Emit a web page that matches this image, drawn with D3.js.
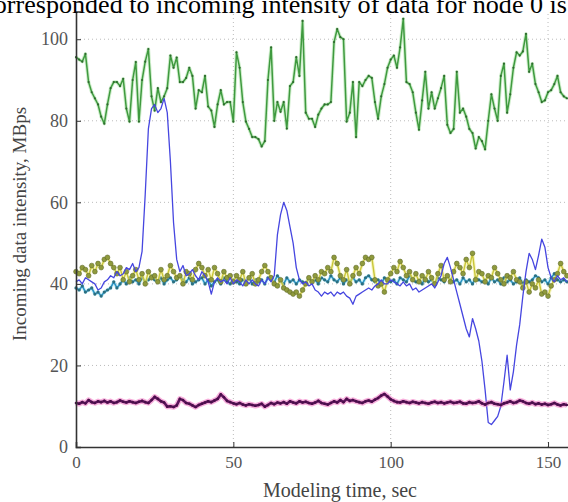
<!DOCTYPE html>
<html>
<head>
<meta charset="utf-8">
<script src="https://cdn.jsdelivr.net/npm/d3@7"></script>
<style>
    body { margin: 0; background: #fff; }
    svg { display: block; }
    .tick text { font-family: "Liberation Serif", "Times New Roman", serif; fill: #555; }
</style>
</head>
<body>
<svg id="svg"></svg>
<script>
// seconds 0..156, one sample per second
let time = d3.range(0, 157);

let xTicks = [0, 50, 100, 150];
let yTicks = [0, 20, 40, 60, 80, 100];

let greenNode = [
    95.6, 95, 94.5, 96.4, 89.5, 87, 85.5, 84, 81, 79.3,
    84, 88, 89.5, 89.5, 88.5, 90.3, 83, 79.8, 90, 94.4,
    79.8, 90, 94.5, 97.6, 86, 82.5, 88, 84.6, 86, 88,
    96, 93, 95.5, 89.5, 89.5, 90.5, 93, 91, 83, 87.5,
    87, 91, 83.5, 82.5, 78.5, 84, 87.5, 84, 84.6, 84.6,
    79.8, 96.8, 93, 84.6, 79.8, 78, 76, 76, 75.5, 73.7,
    75, 90, 98, 80, 84.6, 82.2, 84.6, 78.1, 88.5, 89.5,
    95.6, 91, 104.5, 82, 80.5, 80.5, 78.5, 81.5, 83, 84,
    84, 84.6, 99.3, 102.5, 100.5, 100, 79.8, 82, 89.5, 76,
    89.5, 88.5, 90, 91, 90.5, 84.6, 80.5, 86, 89, 93,
    95, 96, 93, 98, 105, 89.5, 89, 87, 82, 77.8,
    85, 92, 83, 87, 83, 85.5, 88, 91, 79, 77,
    78, 92, 82, 83, 81, 78, 77, 73.2, 76, 75,
    73, 80, 86.5, 83, 80, 91, 94, 82, 86.5, 93,
    96.8, 96, 97, 101.3, 92, 94, 89, 87, 84.6, 85,
    87, 87.5, 89, 91, 87, 86, 85.5
];

let blueNode = [
    40.5, 41, 40, 41.5, 41, 40.5, 40, 38.5, 39, 40.5,
    41, 42, 41.5, 43, 42, 42.5, 44, 43.5, 45, 43,
    44, 48, 62, 78, 83, 84, 82, 83, 85.5, 82,
    70, 55, 46, 43, 44.5, 42, 42.5, 43.5, 42, 41,
    43, 42, 40.5, 37.5, 40.5, 41.5, 40.5, 41, 40, 41.5,
    40, 41, 40.5, 39.5, 41, 40, 41, 40, 39.5, 41,
    40, 41.5, 40.5, 42, 52, 57, 60, 58, 54, 50,
    44, 41, 40, 40.5, 39.5, 40, 38.5, 38, 37, 38,
    37.5, 38, 37, 38, 37.5, 38, 37, 36.5, 35, 37,
    37.5, 38, 38.5, 39, 38.5, 39.5, 40, 41, 40, 40,
    41, 40.5, 40, 39.5, 40.5, 39.5, 40, 38.5, 39, 38,
    38.5, 39, 39.5, 40, 39, 40.5, 42, 45, 46.5, 44,
    41, 38, 35, 32, 29, 27, 31.5, 29, 26, 21,
    14, 6, 5.5, 6.5, 7.5, 10, 16, 22.5, 14, 18.5,
    25, 30, 37, 43, 47.5, 46, 43.5, 47, 51, 49,
    44, 41.5, 40.5, 42, 41, 41.5, 40.5
];

let cyanNode = [
    39, 38.5, 39.5, 38, 38.5, 39, 37.5, 38, 37, 38,
    38.5, 39, 40.5, 39, 40, 41, 40, 41.5, 40.5, 41,
    40, 41.5, 40.5, 41, 42, 41, 40.5, 41.5, 40, 41,
    41.5, 40.5, 41, 42, 41, 40.5, 41.5, 40, 40.5, 41,
    41.5, 40, 41, 39.5, 40.5, 41, 40, 41.5, 40.5, 40,
    41, 40.5, 40, 41, 40.5, 41.5, 40, 41, 40.5, 41,
    40, 41.5, 41, 40.5, 42, 41, 40, 41.5, 40.5, 41,
    40, 41, 40.5, 40, 41.5, 40.5, 41, 40, 41.5, 41,
    40.5, 42, 41, 40.5, 41.5, 40, 41, 40.5, 41.5, 40.5,
    41, 40, 41.5, 42, 41, 40.5, 41, 40, 41.5, 41,
    40.5, 41, 40, 41.5, 41, 40.5, 42, 41, 40.5, 41,
    40, 41.5, 40.5, 41, 40, 41.5, 41, 40.5, 42, 41,
    40.5, 41, 40, 41.5, 40.5, 41, 40, 41.5, 41, 40.5,
    41, 40, 41.5, 40.5, 41, 40, 41.5, 40.5, 41, 40,
    40.5, 41.5, 40, 41, 40.5, 41, 42, 41.5, 40.5, 41,
    40, 41.5, 42.5, 41, 40.5, 41, 40.5
];

let yellowNode = [
    43, 42.5, 44, 43.5, 42, 44.5, 43, 45, 44, 46,
    46.5, 45, 44, 42.5, 44, 41, 43, 40.5, 42, 43.5,
    41, 42.5, 40, 43, 41.5, 42, 40.5, 43.5, 41, 42,
    44.5, 43, 41.5, 42, 40, 43, 42.5, 41, 43.5, 45,
    44, 42, 43.5, 41, 44, 42.5, 40.5, 43, 41.5, 42,
    40.5, 42, 41, 43, 40, 41.5, 42.5, 40, 41, 43,
    44.5, 43, 41.5, 40, 39.5, 41, 39, 38.5, 38, 37.5,
    38, 37, 38.5, 40, 41.5, 40.5, 42, 41, 43, 42.5,
    44, 43, 46.5, 45, 42, 41, 43.5, 40, 42, 44,
    42.5, 45, 46.5, 46, 46.5, 41, 39.5, 40, 38, 41,
    42.5, 44, 43, 45.5, 44, 42, 43, 41, 42.5, 40.5,
    42, 41, 43, 41.5, 40, 42.5, 44.5, 41, 42, 40.5,
    43, 45, 44, 42.5, 46, 44, 47.5, 41, 43, 42.5,
    40.5, 42, 41.5, 44, 42.5, 41, 40, 42, 41.5, 43,
    41, 40.5, 39, 40.5, 38, 40, 39, 41, 37.5, 38,
    37, 39.5, 41, 42.5, 45, 43, 42
];

let purpleNode = [
    10.8, 10.6, 11, 10.7, 11.5, 11, 10.8, 11.2, 11, 11.3,
    10.9, 11.2, 10.8, 11, 11.4, 11.1, 10.9, 11.2, 11, 10.8,
    11.1, 11.3, 11, 10.8, 11.5, 12.3, 11.8, 11.2, 10.9, 9.9,
    10, 9.8, 10.2, 11.8, 11.5, 10.8, 10.6, 10.2, 9.8, 10.3,
    10.6, 10.9, 11.2, 11, 11.4, 11.8, 12.9, 12.2, 11.3, 11,
    10.7, 10.5, 10.8, 10.4, 10.2, 10.5, 10.3, 10.1, 10.3, 10.6,
    9.9, 10.3, 10.8, 10.5, 10.9, 10.7, 11, 10.6, 11.2, 10.9,
    10.7, 11.2, 10.9, 11.1, 10.8, 10.6, 10.9, 11.3, 10.8, 10.6,
    10.4, 10.8, 11.2, 10.9, 11.5, 11, 11.8, 11.3, 11.5, 11.2,
    11, 10.8, 11.2, 11.4, 11.1, 11.6, 12, 12.6, 13, 12.4,
    11.7, 11.3, 11, 10.9, 11.2, 11, 10.8, 11.1, 10.9, 10.7,
    11, 10.8, 10.6, 10.9, 11.1, 10.8, 11, 10.7, 10.9, 11.1,
    10.8, 10.9, 11.1, 10.7, 10.6, 11, 10.8, 10.9, 11.2, 10.7,
    10.4, 10.8, 11, 10.6, 10.5, 10.3, 10.7, 10.9, 11.2, 10.8,
    11, 11.4, 11.2, 10.8, 10.6, 10.9, 10.5, 10.7, 10.4, 10.6,
    10.3, 10.5, 10.8, 10.4, 10.2, 10.5, 10.3
];

const width = 568;
const height = 502;
const serif = '"Liberation Serif", "Times New Roman", serif';

let svg = d3.select("#svg").attr("width", width).attr("height", height);

// the figure is cropped on the right, so the x range runs past the page edge
let xScale = d3.scaleLinear().domain([0, 160]).range([76, 579.5]);
let yScale = d3.scaleLinear().domain([0, 106.8]).range([447, 11.5]);

function drawGrid() {
    svg.append("g").selectAll("line")
        .data(xTicks.slice(1))
        .enter().append("line")
            .attr("x1", d => xScale(d)).attr("x2", d => xScale(d))
            .attr("y1", yScale(0)).attr("y2", yScale(106.8))
            .attr("stroke", "#bbb").attr("stroke-width", 1)
            .attr("stroke-dasharray", "1,3");

    svg.append("g").selectAll("line")
        .data(yTicks.slice(1))
        .enter().append("line")
            .attr("x1", xScale(0)).attr("x2", width)
            .attr("y1", d => yScale(d)).attr("y2", d => yScale(d))
            .attr("stroke", "#bbb").attr("stroke-width", 1)
            .attr("stroke-dasharray", "1,3");
}

function drawSeries(values, opts) {
    let pts = values.map((v, i) => [time[i], v]);
    let line = d3.line().x(d => xScale(d[0])).y(d => yScale(d[1]));
    let g = svg.append("g");

    if (opts.halo) {
        g.append("path").datum(pts)
            .attr("d", line).attr("fill", "none")
            .attr("stroke", opts.halo).attr("stroke-width", opts.haloWidth)
            .attr("stroke-opacity", 0.55).attr("stroke-linejoin", "round");
    }
    g.append("path").datum(pts)
        .attr("d", line).attr("fill", "none")
        .attr("stroke", opts.color).attr("stroke-width", opts.width)
        .attr("stroke-linejoin", "round");

    if (opts.marker) {
        g.selectAll("circle").data(pts).enter().append("circle")
            .attr("cx", d => xScale(d[0]))
            .attr("cy", d => yScale(d[1]))
            .attr("r", opts.marker)
            .attr("fill", opts.markerFill)
            .attr("stroke", opts.markerStroke || "none")
            .attr("stroke-width", 0.6);
    }
}

function drawAxes() {
    let xAxis = svg.append("g")
        .attr("transform", `translate(0,${yScale(0)})`)
        .call(d3.axisBottom(xScale).tickValues(xTicks).tickSize(-5).tickPadding(9));
    xAxis.select(".domain").attr("stroke", "#333").attr("stroke-width", 1.6);
    xAxis.selectAll(".tick line").attr("stroke", "#333");
    xAxis.selectAll(".tick text").style("font-size", "17px");

    let yAxis = svg.append("g")
        .attr("transform", `translate(${xScale(0)},0)`)
        .call(d3.axisLeft(yScale).tickValues(yTicks).tickSize(-5).tickPadding(8));
    yAxis.select(".domain").attr("stroke", "#333").attr("stroke-width", 1.6);
    yAxis.selectAll(".tick line").attr("stroke", "#333");
    yAxis.selectAll(".tick text").style("font-size", "18px");
}

function drawLabels() {
    // line of the surrounding document text, its top and left cut off by the crop
    svg.append("text")
        .attr("x", 567).attr("y", 13)
        .attr("text-anchor", "end")
        .style("font-family", serif).style("font-size", "26.1px")
        .text("corresponded to incoming intensity of data for node 0 is");

    svg.append("text")
        .attr("x", 340).attr("y", 497)
        .attr("text-anchor", "middle")
        .style("font-family", serif).style("font-size", "20px").style("fill", "#444")
        .text("Modeling time, sec");

    svg.append("text")
        .attr("transform", "translate(26,224) rotate(-90)")
        .attr("text-anchor", "middle")
        .style("font-family", serif).style("font-size", "19px").style("fill", "#444")
        .text("Incoming data intensity, MBps");
}

function initialize() {
    svg.append("rect").attr("width", width).attr("height", height).attr("fill", "#fff");
    drawGrid();
    drawSeries(greenNode, { color: "#3f9a3f", width: 1.5, halo: "#a6e0a0", haloWidth: 3.5,
        marker: 1.1, markerFill: "#2f6b2f" });
    drawSeries(cyanNode, { color: "#2b93c4", width: 1.6, halo: "#9fe3f0", haloWidth: 3.5,
        marker: 1.6, markerFill: "#2c6f80" });
    drawSeries(yellowNode, { color: "#c9c63a", width: 1.4, halo: "#f0ee90", haloWidth: 3.5,
        marker: 2.4, markerFill: "#8f9a3c", markerStroke: "#5f6a2a" });
    drawSeries(blueNode, { color: "#4646e0", width: 1.3 });
    drawSeries(purpleNode, { color: "#5e145e", width: 2.6, halo: "#f070c0", haloWidth: 5.5,
        marker: 1.3, markerFill: "#4a0f4a" });
    drawAxes();
    drawLabels();
}

initialize();
</script>
</body>
</html>
